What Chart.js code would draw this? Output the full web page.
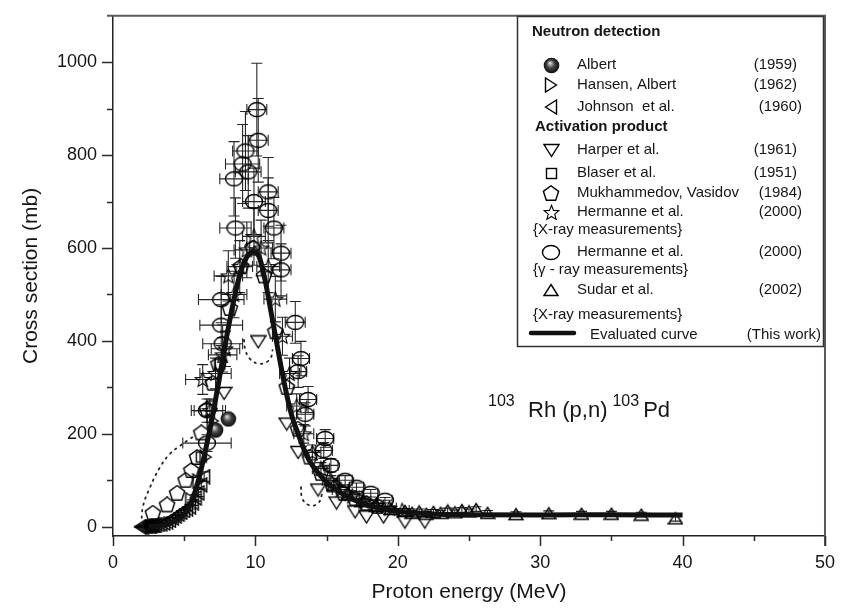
<!DOCTYPE html>
<html>
<head>
<meta charset="utf-8">
<script src="https://cdn.jsdelivr.net/npm/chart.js@4.4.1/dist/chart.umd.min.js"></script>
<style>
  html, body { margin: 0; padding: 0; background: #fff; }
  #wrap { width: 841px; height: 609px; }
</style>
</head>
<body>
<div id="wrap"><canvas id="xs" width="841" height="609"></canvas></div>
<script>
// 103Rh(p,n)103Pd excitation function: measured data sets and the evaluated curve

// Neutron detection
const albertE  = [7.2, 8.1];
const albertXS = [208, 232];

const hansenE  = [5.5, 6.0, 6.5, 7.0];
const hansenXS = [58, 98, 150, 228];

const johnsonE  = [1.9, 2.0, 2.1, 2.2, 2.3, 2.4, 2.5, 2.6, 2.7, 2.8, 2.9, 3.0, 3.2, 3.4, 3.6, 3.8, 4.0, 4.2, 4.4, 4.6, 4.8, 5.0, 5.2, 5.4, 5.6, 5.8, 6.0, 6.2, 6.4];
const johnsonXS = [0, 0, 0, 1, 1, 1, 2, 2, 2, 3, 3, 3, 5, 6, 8, 11, 14, 19, 23, 27, 31, 35, 39, 43, 52, 62, 73, 90, 108];
const johnsonDXS = [1, 1, 1, 1, 1, 1, 1, 1, 1, 1, 1, 1, 1, 1, 1, 2, 2, 2, 3, 3, 4, 4, 4, 5, 6, 7, 8, 9, 10];

// Activation product
const harperE  = [7.8, 10.2, 12.2, 13.0, 14.4, 15.7, 17.0, 17.8, 19.0, 20.5, 21.9];
const harperXS = [287, 398, 221, 160, 79, 51, 32, 21, 21, 10, 10];

const blaserE  = [6.2, 6.9, 7.5];
const blaserXS = [150, 260, 350];

const mukhE  = [2.8, 3.8, 4.5, 5.1, 5.5, 5.9, 6.2, 6.6, 7.0, 7.4, 8.2, 9.0, 9.8, 10.6, 11.4, 12.2, 13.0, 13.8, 14.6, 15.4, 16.2, 17.0, 17.8, 18.6];
const mukhXS = [29, 47, 72, 100, 121, 149, 202, 253, 309, 350, 470, 560, 600, 540, 420, 300, 210, 150, 115, 90, 72, 60, 50, 44];

// Hermanne et al. (2000), X-ray measurements
const hermXE   = [6.3, 6.8, 7.2, 7.7, 7.9, 8.1, 8.5, 8.9, 9.4, 9.9, 10.4, 10.9, 11.4, 11.9, 12.4, 12.9, 13.4, 14.0, 14.6, 15.3, 16.0, 16.8, 17.6, 18.5, 19.4, 20.3];
const hermXXS  = [317, 250, 330, 370, 383, 540, 500, 560, 596, 625, 600, 560, 490, 410, 330, 260, 200, 160, 125, 100, 80, 66, 55, 46, 40, 35];
const hermXdE  = [1.2, 1.1, 1.1, 1.0, 1.0, 1.0, 0.9, 0.9, 0.9, 0.8, 0.8, 0.8, 0.8, 0.7, 0.7, 0.7, 0.7, 0.6, 0.6, 0.6, 0.6, 0.5, 0.5, 0.5, 0.5, 0.5];
const hermXdXS = [32, 25, 33, 37, 38, 54, 50, 56, 60, 62, 60, 56, 49, 41, 33, 26, 20, 16, 13, 10, 8, 7, 6, 5, 4, 4];

// Hermanne et al. (2000), gamma-ray measurements
const hermGE   = [6.6, 6.6, 7.6, 7.6, 7.7, 8.5, 8.6, 9.1, 9.3, 9.5, 9.9, 10.1, 10.2, 10.9, 10.9, 11.3, 11.8, 11.8, 12.8, 13.0, 13.2, 13.5, 13.7, 14.8, 14.9, 15.3, 16.3, 17.1, 18.1, 19.1];
const hermGXS  = [250, 180, 489, 434, 394, 749, 643, 781, 809, 764, 700, 898, 832, 721, 681, 643, 589, 553, 440, 334, 362, 242, 274, 164, 190, 132, 100, 85, 72, 57];
const hermGdE  = [1.1, 1.7, 1.6, 1.5, 1.4, 1.0, 1.1, 1.2, 0.9, 0.9, 0.8, 0.7, 0.7, 0.7, 0.7, 0.7, 0.7, 0.7, 0.7, 0.6, 0.6, 0.6, 0.6, 0.6, 0.6, 0.5, 0.5, 0.5, 0.5, 0.5];
const hermGdXS = [25, 18, 50, 44, 40, 80, 65, 85, 85, 78, 72, 100, 90, 74, 70, 66, 60, 56, 45, 34, 37, 25, 28, 17, 19, 14, 10, 9, 8, 6];

// Sudar et al. (2002), X-ray measurements
const sudarE   = [15.5, 16.5, 17.5, 18.5, 19.5, 20.5, 21.0, 21.5, 22.0, 22.5, 23.0, 23.5, 24.0, 24.5, 25.0, 25.5, 26.3, 28.3, 30.6, 32.9, 35.0, 37.1, 39.5];
const sudarXS  = [90, 70, 55, 45, 38, 34, 30, 33, 28, 32, 30, 35, 31, 36, 33, 38, 30, 27, 29, 28, 28, 26, 18];
const sudarDXS = [9, 7, 6, 5, 5, 5, 5, 5, 5, 5, 5, 5, 5, 5, 5, 5, 5, 5, 5, 5, 5, 5, 6];

// Evaluated curve (this work)
const evalE  = [2.5, 3.0, 3.5, 4.0, 4.5, 5.0, 5.5, 6.0, 6.5, 7.0, 7.5, 8.0, 8.5, 9.0, 9.5, 9.9, 10.3, 10.7, 11.1, 11.5, 12.0, 12.5, 13.0, 13.5, 14.0, 15.0, 16.0, 17.0, 18.0, 19.0, 20.0, 22.0, 25.0, 30.0, 35.0, 40.0];
const evalXS = [0, 1, 3, 7, 14, 26, 52, 100, 165, 240, 325, 412, 490, 553, 585, 592, 578, 528, 462, 395, 313, 245, 200, 160, 132, 96, 73, 57, 46, 38, 33, 28, 26, 25, 26, 25];

// dotted guide curve, visible pieces only (null = break)
const dotE  = [2.0, 2.1, 2.6, 3.3, 4.0, 4.7, 5.4, 5.6, 7.0, 9.2, 9.3, 9.6, 10.2, 10.8, 11.1, 11.2, 12.0, 13.2, 13.3, 13.8, 14.4, 14.7];
const dotXS = [5, 43, 85, 128, 157, 174, 189, 193, null, 402, 380, 362, 351, 355, 365, 380, null, 85, 60, 46, 50, 72];

const yTickValues = [0, 200, 400, 600, 800, 1000];

const legendHeads = ['Neutron detection', 'Activation product'];
const legendNames = ['Albert', 'Hansen, Albert', 'Johnson  et al.', 'Harper et al.', 'Blaser et al.', 'Mukhammedov, Vasidov', 'Hermanne et al.', 'Hermanne et al.', 'Sudar et al.'];
const legendYears = ['(1959)', '(1962)', '(1960)', '(1961)', '(1951)', '(1984)', '(2000)', '(2000)', '(2002)'];
const legendNotes = ['{X-ray measurements}', '{\u03B3 - ray measurements}', '{X-ray measurements}'];

const FONT = '"Liberation Sans", Arial, Helvetica, sans-serif';
const INK = '#151515';

// ---- marker glyphs drawn into small canvases ----
function marker(w, h, draw) {
    const c = document.createElement('canvas');
    c.width = w; c.height = h;
    const g = c.getContext('2d');
    g.strokeStyle = '#000';
    g.lineWidth = 1.4;
    g.lineJoin = 'miter';
    draw(g, w, h);
    return c;
}

function poly(g, pts) {
    g.beginPath();
    pts.forEach((p, i) => i ? g.lineTo(p[0], p[1]) : g.moveTo(p[0], p[1]));
    g.closePath();
    g.stroke();
}

const mkCircle = marker(20, 17, (g, w, h) => {
    g.beginPath(); g.ellipse(w / 2, h / 2, w / 2 - 1.5, h / 2 - 1.5, 0, 0, Math.PI * 2); g.stroke();
});
const mkUp    = marker(16, 14, (g, w, h) => poly(g, [[w / 2, 1.5], [w - 1, h - 1.5], [1, h - 1.5]]));
const mkDown  = marker(17, 15, (g, w, h) => poly(g, [[1, 1.5], [w - 1, 1.5], [w / 2, h - 1.5]]));
const mkLeft  = marker(14, 16, (g, w, h) => poly(g, [[1.5, h / 2], [w - 1.5, 1], [w - 1.5, h - 1]]));
const mkRight = marker(14, 16, (g, w, h) => poly(g, [[w - 1.5, h / 2], [1.5, 1], [1.5, h - 1]]));
const mkSquare = marker(13, 13, (g, w, h) => g.strokeRect(1.5, 1.5, w - 3, h - 3));
const mkPenta = marker(18, 17, (g, w, h) => {
    const pts = [];
    for (let k = 0; k < 5; k++) {
        const a = -Math.PI / 2 + k * 2 * Math.PI / 5;
        pts.push([w / 2 + 8 * Math.cos(a), 8.8 + 8 * Math.sin(a)]);
    }
    poly(g, pts);
});
const mkStar = marker(17, 17, (g, w, h) => {
    const pts = [];
    for (let k = 0; k < 10; k++) {
        const a = -Math.PI / 2 + k * Math.PI / 5;
        const r = k % 2 ? 3.4 : 7.8;
        pts.push([w / 2 + r * Math.cos(a), 9.1 + r * Math.sin(a)]);
    }
    g.lineWidth = 1.1;
    poly(g, pts);
});
const mkBall = marker(17, 17, (g, w, h) => {
    const grad = g.createRadialGradient(w / 2 - 1.5, h / 2 - 2.5, 0.5, w / 2, h / 2, 8);
    grad.addColorStop(0, '#d8d8d8');
    grad.addColorStop(0.45, '#454545');
    grad.addColorStop(1, '#080808');
    g.fillStyle = grad;
    g.beginPath(); g.arc(w / 2, h / 2, 7.8, 0, Math.PI * 2); g.fill();
});

function pts(es, vs) {
    return es.map((e, i) => ({ x: e, y: vs[i] }));
}

function scatterSet(label, es, vs, glyph, extra) {
    return Object.assign({
        label,
        data: pts(es, vs),
        pointStyle: glyph,
        pointRadius: 7,
        pointHoverRadius: 7,
        showLine: false
    }, extra || {});
}

// ---- error bars, drawn under the markers ----
const errorBars = {
    id: 'errorBars',
    beforeDatasetsDraw(chart) {
        const { ctx, chartArea: a, scales: { x, y } } = chart;
        ctx.save();
        ctx.beginPath();
        ctx.rect(a.left, a.top, a.right - a.left, a.bottom - a.top);
        ctx.clip();
        ctx.strokeStyle = '#262626';
        ctx.lineWidth = 1.1;
        chart.data.datasets.forEach(ds => {
            if (!ds.errE && !ds.errXS) return;
            ds.data.forEach((p, i) => {
                const px = x.getPixelForValue(p.x);
                const py = y.getPixelForValue(p.y);
                const cap = 5.5;
                ctx.beginPath();
                if (ds.errXS) {
                    const t = y.getPixelForValue(p.y + ds.errXS[i]);
                    const b = y.getPixelForValue(p.y - ds.errXS[i]);
                    ctx.moveTo(px, t); ctx.lineTo(px, b);
                    ctx.moveTo(px - cap, t); ctx.lineTo(px + cap, t);
                    ctx.moveTo(px - cap, b); ctx.lineTo(px + cap, b);
                }
                if (ds.errE) {
                    const l = x.getPixelForValue(p.x - ds.errE[i]);
                    const r = x.getPixelForValue(p.x + ds.errE[i]);
                    ctx.moveTo(l, py); ctx.lineTo(r, py);
                    ctx.moveTo(l, py - cap); ctx.lineTo(l, py + cap);
                    ctx.moveTo(r, py - cap); ctx.lineTo(r, py + cap);
                }
                ctx.stroke();
            });
        });
        ctx.restore();
    }
};

// ---- frame (top/right) and tick marks ----
const axisFrame = {
    id: 'axisFrame',
    afterDraw(chart) {
        const { ctx, chartArea: a, scales: { x, y } } = chart;
        ctx.save();
        ctx.strokeStyle = '#5a5a5a';
        ctx.lineWidth = 2;
        ctx.beginPath();
        ctx.moveTo(a.left - 6, a.top);
        ctx.lineTo(a.right, a.top);
        ctx.lineTo(a.right, a.bottom + 10);
        ctx.stroke();

        ctx.strokeStyle = '#2a2a2a';
        ctx.lineWidth = 1.5;
        ctx.beginPath();
        for (let v = 0; v <= 50; v += 5) {
            const px = Math.round(x.getPixelForValue(v)) + 0.5;
            ctx.moveTo(px, a.bottom);
            ctx.lineTo(px, a.bottom + (v % 10 === 0 ? 10 : 5));
        }
        for (let v = 0; v <= 1000; v += 100) {
            const py = Math.round(y.getPixelForValue(v)) + 0.5;
            ctx.moveTo(a.left, py);
            ctx.lineTo(a.left - (v % 200 === 0 ? 11 : 6), py);
        }
        ctx.stroke();
        ctx.restore();
    }
};

// ---- reaction label ----
const reactionLabel = {
    id: 'reactionLabel',
    afterDraw(chart) {
        const ctx = chart.ctx;
        ctx.save();
        ctx.fillStyle = INK;
        ctx.textBaseline = 'middle';
        ctx.textAlign = 'left';
        const big = '22px ' + FONT, small = '16px ' + FONT;
        let cx = 488;
        ctx.font = small; ctx.fillText('103', cx, 402);
        cx = 528;
        ctx.font = big; ctx.fillText('Rh (p,n)', cx, 411);
        cx += ctx.measureText('Rh (p,n)').width + 5;
        ctx.font = small; ctx.fillText('103', cx, 402);
        cx += ctx.measureText('103').width + 4;
        ctx.font = big; ctx.fillText('Pd', cx, 411);
        ctx.restore();
    }
};

// ---- boxed legend ----
const legendBox = {
    id: 'legendBox',
    afterDraw(chart) {
        const ctx = chart.ctx;
        const glyphs = [mkBall, mkRight, mkLeft, mkDown, mkSquare, mkPenta, mkStar, mkCircle, mkUp];
        const rowY = [65, 85, 107, 150, 173, 193, 212, 252, 290];
        const noteY = [230, 270, 315];
        const yearRight = [797, 797, 802, 797, 797, 802, 802, 802, 802];
        ctx.save();
        ctx.fillStyle = '#fff';
        ctx.fillRect(517, 16, 306, 330);
        ctx.strokeStyle = '#333';
        ctx.lineWidth = 1.5;
        ctx.strokeRect(517.5, 16.5, 306, 330);

        ctx.fillStyle = INK;
        ctx.textBaseline = 'middle';
        ctx.font = 'bold 15px ' + FONT;
        ctx.fillText(legendHeads[0], 532, 32);
        ctx.fillText(legendHeads[1], 535, 127);

        ctx.font = '15px ' + FONT;
        legendNames.forEach((name, i) => {
            const g = glyphs[i];
            ctx.drawImage(g, Math.round(551 - g.width / 2), Math.round(rowY[i] - g.height / 2));
            ctx.textAlign = 'left';
            ctx.fillText(name, 577, rowY[i]);
            ctx.textAlign = 'right';
            ctx.fillText(legendYears[i], yearRight[i], rowY[i]);
        });
        ctx.textAlign = 'left';
        legendNotes.forEach((n, i) => ctx.fillText(n, 533, noteY[i]));

        // evaluated curve entry
        ctx.strokeStyle = '#111';
        ctx.lineWidth = 4.5;
        ctx.lineCap = 'round';
        ctx.beginPath(); ctx.moveTo(531, 333); ctx.lineTo(574, 333); ctx.stroke();
        ctx.fillText('Evaluated curve', 590, 335);
        ctx.textAlign = 'right';
        ctx.fillText('(This work)', 821, 335);
        ctx.restore();
    }
};

Chart.defaults.font.family = FONT;
Chart.defaults.color = INK;

new Chart(document.getElementById('xs'), {
    type: 'scatter',
    data: {
        datasets: [
            {
                label: 'Evaluated curve',
                data: pts(evalE, evalXS),
                showLine: true,
                borderColor: '#111',
                borderWidth: 5,
                pointRadius: 0,
                cubicInterpolationMode: 'monotone',
                tension: 0.4
            },
            scatterSet('Albert (1959)', albertE, albertXS, mkBall),
            {
                label: 'dotted',
                data: pts(dotE, dotXS),
                showLine: true,
                spanGaps: false,
                borderColor: '#222',
                borderWidth: 1.8,
                borderDash: [1.5, 5],
                borderCapStyle: 'round',
                pointRadius: 0,
                tension: 0.4
            },
            scatterSet('Hansen, Albert (1962)', hansenE, hansenXS, mkRight),
            scatterSet('Johnson et al. (1960)', johnsonE, johnsonXS, mkLeft, { errXS: johnsonDXS }),
            scatterSet('Harper et al. (1961)', harperE, harperXS, mkDown),
            scatterSet('Blaser et al. (1951)', blaserE, blaserXS, mkSquare),
            scatterSet('Mukhammedov, Vasidov (1984)', mukhE, mukhXS, mkPenta),
            scatterSet('Hermanne et al. (2000) X-ray', hermXE, hermXXS, mkStar, { errE: hermXdE, errXS: hermXdXS }),
            scatterSet('Hermanne et al. (2000) gamma', hermGE, hermGXS, mkCircle, { errE: hermGdE, errXS: hermGdXS }),
            scatterSet('Sudar et al. (2002)', sudarE, sudarXS, mkUp, { errXS: sudarDXS })
        ]
    },
    options: {
        responsive: false,
        animation: false,
        layout: { padding: { top: 10, right: 10, left: 0, bottom: 0 } },
        plugins: {
            legend: { display: false },
            tooltip: { enabled: false }
        },
        scales: {
            x: {
                type: 'linear',
                min: 0,
                max: 50,
                afterFit: s => { s.height = 73; },
                grid: { drawOnChartArea: false, tickColor: 'transparent', tickLength: 10 },
                border: { color: '#222', width: 1.5 },
                ticks: { stepSize: 10, padding: 6, font: { size: 18 }, maxRotation: 0, callback: v => String(v) },
                title: { display: true, text: 'Proton energy (MeV)', font: { size: 21 }, padding: { top: 0, bottom: 4 } }
            },
            y: {
                type: 'linear',
                min: -20,
                max: 1100,
                afterBuildTicks: s => { s.ticks = yTickValues.map(v => ({ value: v })); },
                afterFit: s => { s.width = 113; },
                grid: { drawOnChartArea: false, tickColor: 'transparent', tickLength: 11 },
                border: { color: '#222', width: 1.5 },
                ticks: { padding: 5, font: { size: 18 }, callback: v => String(v) },
                title: { display: true, text: 'Cross section (mb)', font: { size: 21 }, padding: { top: 19, bottom: 0 } }
            }
        }
    },
    plugins: [errorBars, axisFrame, reactionLabel, legendBox]
});
</script>
</body>
</html>
